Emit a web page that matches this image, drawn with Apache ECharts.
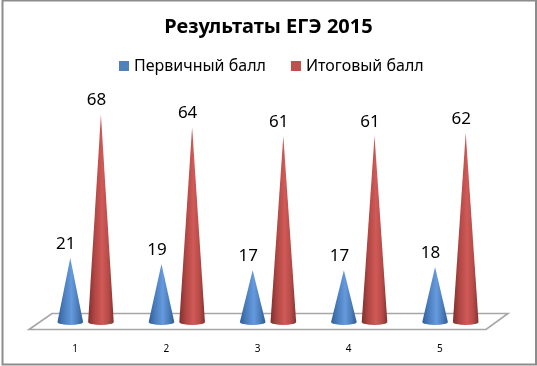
<!DOCTYPE html>
<html>
<head>
<meta charset="utf-8">
<style>html,body{margin:0;padding:0;background:#fff}#c{width:537px;height:366px}</style>
<script src="https://cdn.jsdelivr.net/npm/echarts@6/dist/echarts.min.js"></script>
</head>
<body>
<div id="c"></div>
<script>
const categories = ['1', '2', '3', '4', '5'];
const primaryScore = [21, 19, 17, 17, 18];
const finalScore = [68, 64, 61, 61, 62];
const seriesNames = ['Первичный балл', 'Итоговый балл'];
const chartTitle = 'Результаты ЕГЭ 2015';

const FONT = '"Noto Sans", "Open Sans", sans-serif';
const blueStops = ['#2f5f9c', '#4a7dbb', '#659ade', '#4a7cb9', '#2f5c96'];
const redStops = ['#7f2f2d', '#b04643', '#d05a57', '#b64a47', '#823230'];

function gradient(stops) {
  return {
    type: 'linear', x: 0, y: 0, x2: 1, y2: 0, global: false,
    colorStops: [
      { offset: 0, color: stops[0] },
      { offset: 0.25, color: stops[1] },
      { offset: 0.55, color: stops[2] },
      { offset: 0.8, color: stops[3] },
      { offset: 1, color: stops[4] }
    ]
  };
}

function coneRenderer(stops, shiftFraction) {
  return function (params, api) {
    const idx = api.value(0);
    const val = api.value(1);
    const tip = api.coord([idx, val]);
    const base = api.coord([idx, 0]);
    const band = api.size([1, 0])[0];
    const cx = tip[0] + band * shiftFraction;
    const hw = 12.8, ry = 3;
    const d = 'M' + cx + ' ' + tip[1] +
      ' L' + (cx + hw) + ' ' + base[1] +
      ' A' + hw + ' ' + ry + ' 0 0 1 ' + (cx - hw) + ' ' + base[1] + ' Z';
    return {
      type: 'group',
      children: [
        { type: 'path', shape: { pathData: d }, style: { fill: gradient(stops) } },
        {
          type: 'text',
          style: {
            text: String(val), x: cx - 4.5, y: tip[1] - 14,
            align: 'center', verticalAlign: 'middle',
            font: '17px ' + FONT, fill: '#000'
          }
        }
      ]
    };
  };
}

const chart = echarts.init(document.getElementById('c'), null, { renderer: 'canvas' });
chart.setOption({
  animation: false,
  backgroundColor: '#fff',
  title: {
    text: chartTitle, left: 'center', top: 12, itemGap: 0,
    textStyle: { fontFamily: FONT, fontSize: 20, fontWeight: 'bold', color: '#000' }
  },
  legend: {
    top: 53, left: 114, padding: [5, 5, 5, 5], itemWidth: 10, itemHeight: 10, itemGap: 25, icon: 'rect',
    textStyle: { fontFamily: FONT, fontSize: 16, color: '#000' },
    data: seriesNames
  },
  grid: { left: 40, right: 41, top: 78, bottom: 44 },
  xAxis: {
    type: 'category', data: categories,
    axisLine: { show: false }, axisTick: { show: false }, splitLine: { show: false },
    axisLabel: { margin: 22, padding: [0, 21, 0, 0], fontFamily: FONT, fontSize: 10, color: '#000' }
  },
  yAxis: { type: 'value', min: 0, max: 80, show: false },
  graphic: [
    { type: 'rect', silent: true, z: -2, shape: { x: 2.5, y: 0.5, width: 533.5, height: 364 },
      style: { fill: '#fff', stroke: '#8c8c8c', lineWidth: 2 } },
    { type: 'polygon', silent: true, z: -1, shape: { points: [[29, 329.5], [52, 313.5], [508, 313.5], [486, 329.5]] },
      style: { fill: '#fff', stroke: '#a6a6a6', lineWidth: 1.6 } }
  ],
  series: [
    { name: seriesNames[0], type: 'custom', itemStyle: { color: '#4f81bd' }, z: 3,
      renderItem: coneRenderer(blueStops, -0.168),
      data: primaryScore.map((v, i) => [i, v]) },
    { name: seriesNames[1], type: 'custom', itemStyle: { color: '#c0504d' }, z: 3,
      renderItem: coneRenderer(redStops, 0.168),
      data: finalScore.map((v, i) => [i, v]) }
  ]
});
</script>
</body>
</html>
